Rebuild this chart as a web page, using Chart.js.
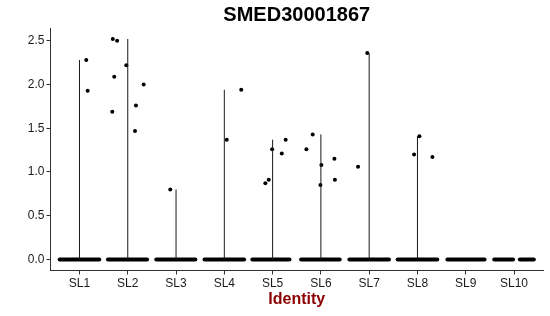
<!DOCTYPE html>
<html>
<head>
<meta charset="utf-8">
<script src="https://cdn.jsdelivr.net/npm/chart.js@4/dist/chart.umd.min.js"></script>
<style>
  html, body { margin: 0; padding: 0; background: #fff; }
  #wrap { width: 550px; height: 316px; }
</style>
</head>
<body>
<div id="wrap"><canvas id="vln"></canvas></div>
<script>
const identities = ["SL1", "SL2", "SL3", "SL4", "SL5", "SL6", "SL7", "SL8", "SL9", "SL10"];

// non-zero expression values per identity
const exprValues = [
  [2.28, 1.93],
  [2.52, 2.50, 2.22, 2.09, 2.00, 1.76, 1.69, 1.47],
  [0.80],
  [1.37, 1.94],
  [1.26, 1.21, 1.37, 0.87, 0.91],
  [1.26, 1.43, 1.08, 0.85, 1.15, 0.91],
  [1.06, 2.36],
  [1.41, 1.20, 1.17],
  [],
  []
];
// horizontal jitter of those points, in category units
const exprJitter = [
  [0.14, 0.17],
  [-0.31, -0.22, -0.03, -0.28, 0.33, 0.17, -0.32, 0.15],
  [-0.12],
  [0.05, 0.35],
  [-0.01, 0.19, 0.27, -0.15, -0.08],
  [-0.30, -0.17, 0.01, -0.01, 0.28, 0.29],
  [-0.23, -0.04],
  [0.04, -0.07, 0.31],
  [],
  []
];
// spread of the jittered zero-valued cells (they merge into a band)
const zeroSpread = [
  [[-0.41, 0.41]],
  [[-0.41, 0.40]],
  [[-0.41, 0.40]],
  [[-0.41, 0.41]],
  [[-0.42, 0.35]],
  [[-0.41, 0.39]],
  [[-0.41, 0.41]],
  [[-0.41, 0.41]],
  [[-0.38, 0.39]],
  [[-0.41, -0.02], [0.12, 0.41]]
];
const yTicks = [0, 0.5, 1.0, 1.5, 2.0, 2.5];

const datasets = [];

// collapsed violins -> vertical line from 0 to the group max
identities.forEach((id, i) => {
  const vals = exprValues[i];
  if (!vals.length) return;
  const top = Math.max(...vals);
  datasets.push({
    type: "line",
    data: [{ x: i + 1, y: 0 }, { x: i + 1, y: top }],
    borderColor: "#1a1a1a",
    borderWidth: 1,
    pointRadius: 0,
    showLine: true
  });
});

// zero band per identity
zeroSpread.forEach((segs, i) => {
  segs.forEach(s => {
    datasets.push({
      type: "line",
      data: [{ x: i + 1 + s[0], y: 0 }, { x: i + 1 + s[1], y: 0 }],
      borderColor: "#000",
      borderWidth: 4,
      borderCapStyle: "round",
      pointRadius: 0,
      showLine: true
    });
  });
});

// jittered non-zero points
const pts = [];
exprValues.forEach((vals, i) => {
  vals.forEach((v, j) => pts.push({ x: i + 1 + exprJitter[i][j], y: v }));
});
datasets.push({
  type: "scatter",
  data: pts,
  backgroundColor: "#000",
  borderColor: "#000",
  pointRadius: 2,
  borderWidth: 0
});

const ctx = document.getElementById("vln").getContext("2d");
new Chart(ctx, {
  type: "scatter",
  data: { datasets: datasets },
  options: {
    responsive: true,
    maintainAspectRatio: false,
    animation: false,
    layout: { padding: { left: 0, right: 7, top: 0, bottom: 0 } },
    plugins: {
      legend: { display: false },
      tooltip: { enabled: false },
      title: {
        display: true,
        text: "SMED30001867",
        fullSize: false,
        color: "#000",
        font: { family: "'Liberation Sans', Arial, sans-serif", size: 20, weight: "bold", lineHeight: 1.2 },
        padding: { top: 3, bottom: 1 }
      }
    },
    scales: {
      x: {
        type: "linear",
        min: 0.4,
        max: 10.6,
        afterBuildTicks: axis => {
          axis.ticks = identities.map((_, i) => ({ value: i + 1 }));
        },
        afterFit: axis => { axis.height = 45.5; },
        ticks: {
          color: "#1a1a1a",
          padding: 2,
          maxRotation: 0,
          autoSkip: false,
          font: { family: "'Liberation Sans', Arial, sans-serif", size: 12 },
          callback: v => identities[Math.round(v) - 1]
        },
        grid: { drawOnChartArea: false, drawTicks: true, tickLength: 4, color: "#333" },
        border: { display: true, color: "#333", width: 1 },
        title: {
          display: true,
          text: "Identity",
          color: "#8b0000",
          font: { family: "'Liberation Sans', Arial, sans-serif", size: 16, weight: "bold", lineHeight: 1.2 },
          padding: { top: 0, bottom: 7 }
        }
      },
      y: {
        type: "linear",
        min: -0.126,
        max: 2.646,
        afterBuildTicks: axis => {
          axis.ticks = yTicks.map(v => ({ value: v }));
        },
        afterFit: axis => { axis.width = 50.5; },
        ticks: {
          color: "#1a1a1a",
          padding: 2,
          font: { family: "'Liberation Sans', Arial, sans-serif", size: 12 },
          callback: v => v.toFixed(1)
        },
        grid: { drawOnChartArea: false, drawTicks: true, tickLength: 4, color: "#333" },
        border: { display: true, color: "#333", width: 1 }
      }
    }
  }
});
</script>
</body>
</html>
